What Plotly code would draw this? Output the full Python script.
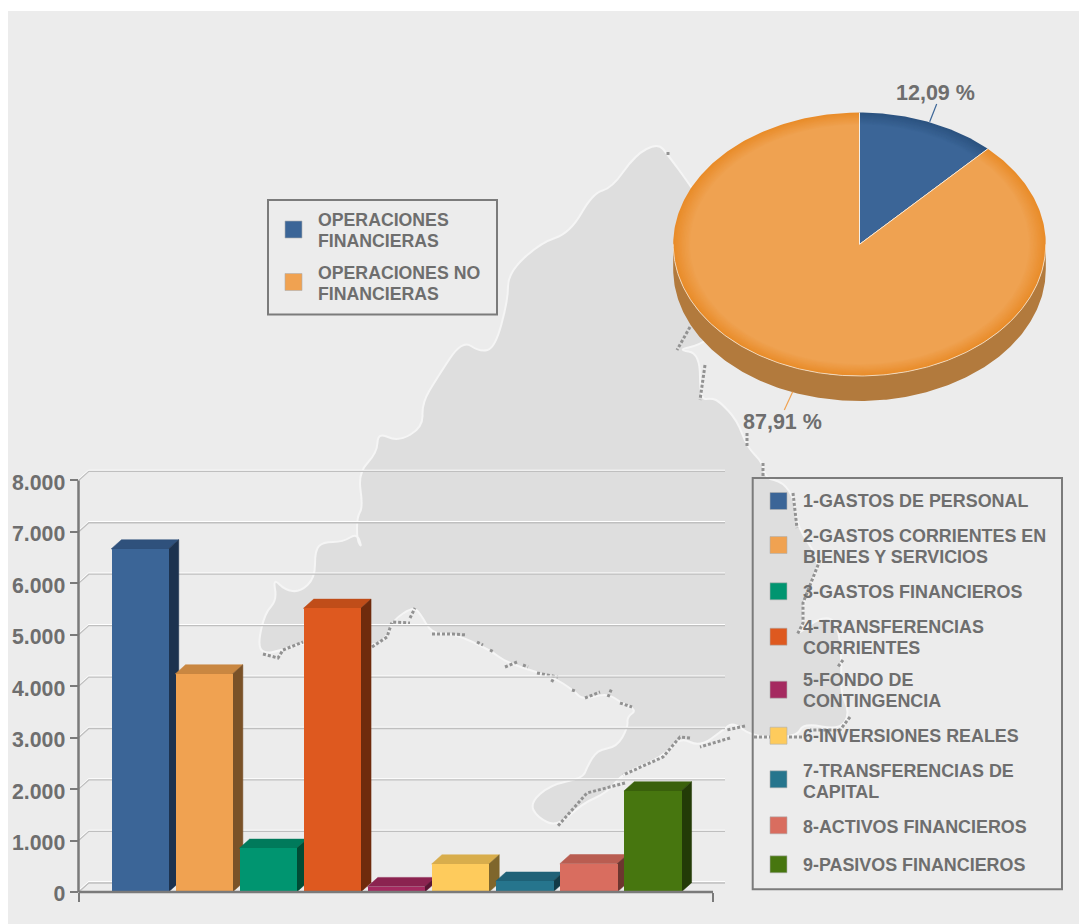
import math
import plotly.graph_objects as go

# ---------- data ----------
bar_categories = ["1-GASTOS DE PERSONAL", "2-GASTOS CORRIENTES EN\nBIENES Y SERVICIOS", "3-GASTOS FINANCIEROS",
                  "4-TRANSFERENCIAS\nCORRIENTES", "5-FONDO DE\nCONTINGENCIA", "6-INVERSIONES REALES",
                  "7-TRANSFERENCIAS DE\nCAPITAL", "8-ACTIVOS FINANCIEROS", "9-PASIVOS FINANCIEROS"]
bar_values = [6670, 4240, 850, 5515, 105, 545, 210, 550, 1965]
front_colors = ["#3b6597", "#f0a251", "#009570", "#de591f", "#a52a60", "#fecb5c", "#26758d", "#d96d5f", "#47760f"]
top_colors = ["#2f517c", "#c98741", "#007a5b", "#c04d19", "#8b2350", "#d8ad4c", "#1f6177", "#b95d51", "#3a610c"]
side_colors = ["#1c324f", "#7a5228", "#004c35", "#6f2b0d", "#5a1533", "#7f662c", "#123b47", "#6d362f", "#233b07"]
y_ticks = [0, 1000, 2000, 3000, 4000, 5000, 6000, 7000, 8000]
y_tick_labels = ["0", "1.000", "2.000", "3.000", "4.000", "5.000", "6.000", "7.000", "8.000"]
pie_categories = ["OPERACIONES\nFINANCIERAS", "OPERACIONES NO\nFINANCIERAS"]
pie_shares = [12.09, 87.91]
pie_labels = ["12,09 %", "87,91 %"]

# ---------- layout constants ----------
W, H = 1079, 924
TXT = "#6e6e6e"
AX = "#7a7a7a"
FONT = "Liberation Sans"
SLOT = 64.1                    # px per category
X0PX, XENDPX = 78.5, 713.0     # axis ends
Y0PX, PX_PER_1000 = 892.0, 411.5 / 8
BAR_W = 57.3 / SLOT
DX = 10.3 / SLOT
DY = 9.2 / PX_PER_1000 * 1000
PX_Y = 1000 / PX_PER_1000      # value per pixel
XMIN = -(139.8 - X0PX) / SLOT
XTICK_END = XMIN + (XENDPX - X0PX) / SLOT
XMAX = XMIN + (730 - X0PX) / SLOT
BACK_END = XMIN + (725 - X0PX) / SLOT
YMAX = 8300
Y_TOP_PX = Y0PX - YMAX / 1000 * PX_PER_1000


def px(x):
    return x / W


def py(y):
    return 1 - y / H


def paper_path(points, close=True):
    s = "M " + " L ".join(f"{px(a):.5f} {py(b):.5f}" for a, b in points)
    return s + (" Z" if close else "")


def smooth_path(points):
    """Closed outline rounded with quadratic curves through the mid-points."""
    n = len(points)
    mid = [((points[i][0] + points[(i + 1) % n][0]) / 2, (points[i][1] + points[(i + 1) % n][1]) / 2) for i in range(n)]
    s = f"M {px(mid[-1][0]):.5f} {py(mid[-1][1]):.5f}"
    for i in range(n):
        s += f" Q {px(points[i][0]):.5f} {py(points[i][1]):.5f} {px(mid[i][0]):.5f} {py(mid[i][1]):.5f}"
    return s + " Z"


def data_path(points):
    return "M " + " L ".join(f"{a:.4f} {b:.2f}" for a, b in points) + " Z"


# ---------- background map silhouette (pixel outline) ----------
MAP = [(658, 143), (668, 155), (690, 185), (720, 230), (720, 330), (700, 345), (677, 350), (700, 353), (700, 400), (712, 398),
       (720, 402), (737, 420), (747, 447), (763, 463), (765, 478), (783, 482), (795, 500), (797, 527), (820, 560),
       (813, 580), (803, 603), (803, 627), (797, 635), (820, 617), (837, 620), (842, 660), (840, 690), (850, 713),
       (840, 730), (803, 723), (797, 737), (753, 737), (733, 722), (723, 730), (700, 747), (680, 737), (663, 757),
       (623, 773), (607, 793), (583, 803), (557, 827), (537, 817), (530, 803), (550, 785), (583, 778), (587, 767),
       (597, 750), (617, 747), (628, 727), (627, 717), (637, 710), (620, 702), (607, 693), (583, 700), (573, 690),
       (553, 677), (507, 663), (490, 650), (453, 633), (432, 634), (420, 613), (413, 607), (393, 620), (387, 637),
       (373, 647), (303, 642), (283, 650), (263, 654), (258, 643), (265, 613), (277, 600), (273, 578), (285, 590),
       (300, 592), (315, 578), (315, 550), (323, 542), (343, 542), (357, 533), (362, 548), (357, 540), (357, 517),
       (363, 507), (358, 473), (377, 453), (378, 432), (398, 442), (423, 427), (422, 403), (437, 378), (462, 340),
       (480, 352), (495, 348), (508, 300), (508, 273), (540, 243), (570, 233), (593, 193), (612, 188), (635, 155)]
COAST = [[(263, 654), (278, 658), (283, 650), (303, 642)], [(372, 647), (387, 637), (392, 622), (410, 623)],
         [(410, 618), (415, 608)], [(432, 634), (453, 634), (467, 635)], [(477, 642), (483, 645)],
         [(490, 650), (494, 652)], [(505, 667), (517, 662)], [(523, 665), (528, 667)], [(537, 673), (558, 677)],
         [(551, 680), (555, 682)], [(572, 690), (575, 691)], [(585, 698), (600, 692)], [(608, 697), (612, 688)],
         [(620, 703), (632, 707)], [(705, 365), (700, 400)], [(747, 433), (747, 447)], [(763, 463), (763, 478)],
         [(793, 493), (797, 528)], [(820, 560), (803, 603), (803, 623), (797, 635)], [(843, 660), (837, 668)],
         [(850, 717), (840, 730), (810, 730)], [(802, 737), (753, 737)], [(745, 726), (727, 730)],
         [(730, 738), (700, 747)], [(690, 738), (680, 737), (663, 757), (623, 775)], [(625, 783), (587, 793), (557, 827)],
         [(690, 327), (677, 350)], [(668, 152), (668, 157)]]

shapes = [
    dict(type="rect", xref="paper", yref="paper", x0=px(8), x1=1, y0=0, y1=py(11), fillcolor="#ececec",
         line_width=0, layer="below"),
    dict(type="path", xref="paper", yref="paper", path=smooth_path(MAP), fillcolor="#dedede",
         line=dict(color="#f5f5f5", width=2), layer="below"),
]
shapes += [dict(type="path", xref="paper", yref="paper", path=paper_path(seg, close=False),
                line=dict(color="#929292", width=3, dash="3px,2px"), layer="below") for seg in COAST]

# ---------- back wall grid (data coordinates) ----------
for v in y_ticks + [0]:
    for off, col in ((0, "#ffffff"), (PX_Y, "#bfbfbf")):
        shapes.append(dict(type="path", xref="x", yref="y", layer="below",
                           path=f"M {XMIN} {v - off + PX_Y} L {XMIN + DX} {v + DY - off + PX_Y} L {BACK_END} {v + DY - off + PX_Y}",
                           line=dict(color=col, width=1.3)))

# ---------- 3D bar faces: side and top ----------
half = BAR_W / 2
for i, v in enumerate(bar_values):
    l, r = i - half, i + half
    shapes.append(dict(type="path", xref="x", yref="y", layer="below",
                       path=data_path([(l, v), (l + DX, v + DY), (r + DX, v + DY), (r, v)]),
                       fillcolor=top_colors[i], line=dict(color=top_colors[i], width=0.5)))
    shapes.append(dict(type="path", xref="x", yref="y", layer="below",
                       path=data_path([(r, v), (r + DX, v + DY), (r + DX, DY), (r, 0)]),
                       fillcolor=side_colors[i], line=dict(color=side_colors[i], width=0.5)))

# ---------- axis lines ----------
shapes.append(dict(type="line", xref="paper", yref="paper", x0=px(X0PX), x1=px(X0PX), y0=py(Y0PX),
                   y1=py(Y0PX - 8 * PX_PER_1000), line=dict(color=AX, width=2.5)))
shapes.append(dict(type="line", xref="paper", yref="paper", x0=px(X0PX), x1=px(XENDPX), y0=py(Y0PX),
                   y1=py(Y0PX), line=dict(color=AX, width=2.5)))

annotations = []


def text(x, y, s, size=17.9, anchor="left"):
    annotations.append(dict(xref="paper", yref="paper", x=px(x), y=py(y), text=f"<b>{s}</b>", showarrow=False,
                            xanchor=anchor, yanchor="middle", borderpad=0,
                            font=dict(family=FONT, size=size, color=TXT)))


def box(x0, y0, x1, y1):
    shapes.append(dict(type="rect", xref="paper", yref="paper", x0=px(x0), x1=px(x1), y0=py(y0), y1=py(y1),
                       line=dict(color="#7b7b7b", width=2)))


def swatch(x, yc, color):
    shapes.append(dict(type="rect", xref="paper", yref="paper", x0=px(x), x1=px(x + 17), y0=py(yc - 8.5),
                       y1=py(yc + 8.5), fillcolor=color, line=dict(color="#b0b0b0", width=0.6)))


# ---------- left legend ----------
box(268, 200, 497, 314.5)
left_swatch_y = [229.5, 282]
left_line_y = [[220, 241], [273, 294]]
for cat, col, sy, ys in zip(pie_categories, front_colors[:2], left_swatch_y, left_line_y):
    swatch(285, sy, col)
    for line, yy in zip(cat.split("\n"), ys):
        text(316.5, yy, line, size=17.7)

# ---------- right legend ----------
box(752.7, 478, 1062, 889.3)
right_swatch_y = [501, 545, 591.3, 636.7, 689.7, 735.7, 779.3, 825.3, 864.3]
right_line_y = [[500.7], [535.7, 556.7], [592], [626.7, 647.7], [680, 701], [735.7], [771, 792], [826.7], [864.7]]
for cat, col, sy, ys in zip(bar_categories, front_colors, right_swatch_y, right_line_y):
    swatch(770, sy, col)
    for line, yy in zip(cat.split("\n"), ys):
        text(801.5, yy, line)

fig = go.Figure()

# ---------- bars (front faces) ----------
fig.add_trace(go.Bar(x=list(range(len(bar_values))), y=bar_values, width=BAR_W, marker=dict(color=front_colors, line_width=0),
                     hoverinfo="y", xaxis="x", yaxis="y", showlegend=False))

# ---------- pie, tilted ellipse ----------
CX, CY, RX, RY, DEPTH = 859.5, 244.3, 186.3, 131.7, 25


def pt(theta, k=1.0, dy=0.0):
    return CX + k * RX * math.sin(theta), CY - k * RY * math.cos(theta) + dy


def add_poly(pts, fill=None, line=None, lw=0):
    xs, ys = zip(*pts)
    fig.add_trace(go.Scatter(x=xs, y=ys, xaxis="x2", yaxis="y2", mode="lines", hoverinfo="skip", showlegend=False,
                             fill="toself" if fill else "none", fillcolor=fill,
                             line=dict(color=line or fill, width=lw)))


def mix(a, b, t):
    c = [round(int(a[i:i + 2], 16) * (1 - t) + int(b[i:i + 2], 16) * t) for i in (1, 3, 5)]
    return "#%02x%02x%02x" % tuple(c)


N = 240
lower = [math.pi / 2 + math.pi * i / N for i in range(N + 1)]
add_poly([pt(t, 1, DEPTH) for t in lower] + [pt(t) for t in reversed(lower)], fill="#b27a3d")

a_mid = 2 * math.pi * pie_shares[0] / 100
sectors = [(0.0, a_mid, "#2c5380", "#3b6597"), (a_mid, 2 * math.pi, "#e98c2a", "#efa251")]
STEPS = 12
for a0, a1, rim, fill in sectors:
    n = max(12, int((a1 - a0) / (2 * math.pi) * 360))
    thetas = [a0 + (a1 - a0) * i / n for i in range(n + 1)]
    for j in range(STEPS + 1):
        t = j / STEPS
        add_poly([(CX, CY)] + [pt(th, 1 - 0.09 * t) for th in thetas], fill=mix(rim, fill, t))

add_poly([pt(0), (CX, CY), pt(a_mid)], line="#f3efe8", lw=1)
add_poly([pt(t) for t in lower], line="#f6e6d2", lw=0.8)
add_poly([(929.7, 121.7), (936.7, 104)], line=front_colors[0], lw=1.2)
add_poly([(792.7, 391.7), (784.3, 410)], line=front_colors[1], lw=1.2)
text(935.5, 93, pie_labels[0], size=21.5, anchor="center")
text(782.5, 421.5, pie_labels[1], size=21.5, anchor="center")

fig.update_layout(
    width=W, height=H, autosize=False, margin=dict(l=0, r=0, t=0, b=0, autoexpand=False),
    paper_bgcolor="#ffffff", plot_bgcolor="rgba(0,0,0,0)", showlegend=False, bargap=0,
    shapes=shapes, annotations=annotations, hovermode="closest",
    xaxis=dict(domain=[px(X0PX), px(730)], range=[XMIN, XMAX], showgrid=False, zeroline=False, showline=False,
               tickmode="array", tickvals=[XMIN, XTICK_END], ticktext=["", ""], ticks="outside", ticklen=9,
               tickwidth=2, tickcolor=AX, anchor="y", fixedrange=True, automargin=False),
    yaxis=dict(domain=[py(Y0PX), py(Y_TOP_PX)], range=[0, YMAX], showgrid=False, zeroline=False, showline=False,
               tickmode="array", tickvals=y_ticks, ticktext=y_tick_labels, ticks="outside", ticklen=8, tickwidth=2,
               tickcolor=AX, anchor="x", fixedrange=True, automargin=False, ticklabelshift=2,
               tickfont=dict(family=FONT, size=21.3, color=TXT, weight="bold")),
    xaxis2=dict(domain=[0, 1], range=[0, W], visible=False, anchor="y2", fixedrange=True),
    yaxis2=dict(domain=[0, 1], range=[H, 0], visible=False, anchor="x2", fixedrange=True),
)

fig.write_html("out.html", config={"displayModeBar": False},
               post_script="document.body.style.margin='0';document.documentElement.style.overflow='hidden';")
